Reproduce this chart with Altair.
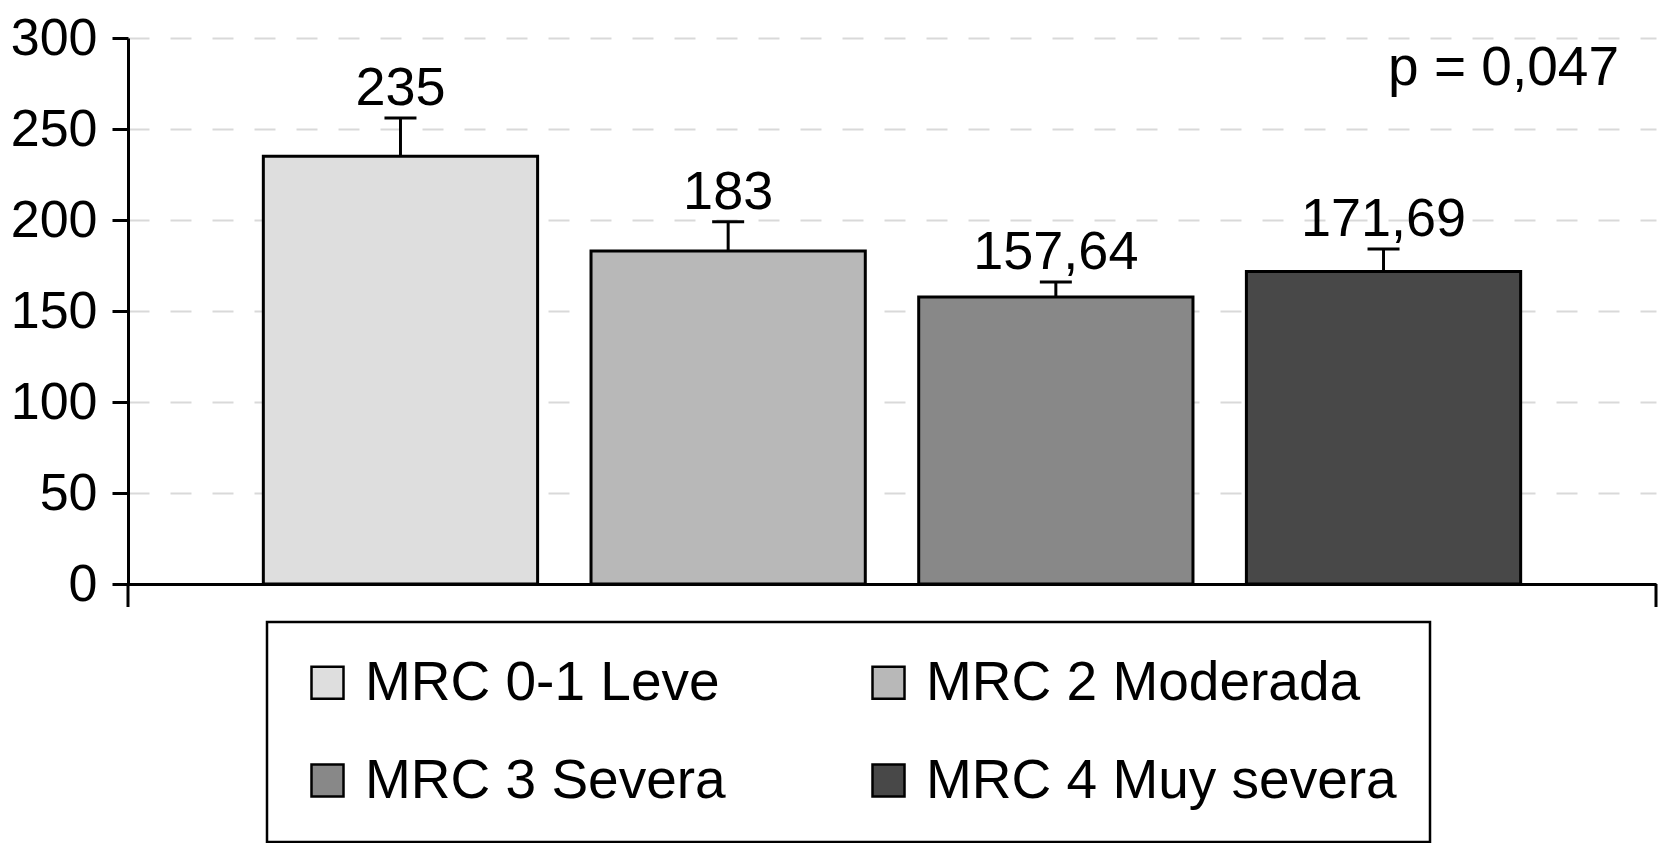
import altair as alt
import pandas as pd

categories = ["MRC 0-1 Leve", "MRC 2 Moderada", "MRC 3 Severa", "MRC 4 Muy severa"]
values = [235, 183, 157.64, 171.69]
err_top = [256, 199, 166, 184]
labels = ["235", "183", "157,64", "171,69"]
colors = ["#dedede", "#b8b8b8", "#888888", "#484848"]
y_ticks = [0, 50, 100, 150, 200, 250, 300]
p_text = "p = 0,047"

W = 1528
H = 546
TOP = 30
FONT = "Liberation Sans"

df = pd.DataFrame({"cat": categories, "value": values, "err": err_top, "label": labels})

x_enc = alt.X(
    "cat:N",
    sort=categories,
    scale=alt.Scale(paddingInner=0.163, paddingOuter=0.413),
    axis=alt.Axis(labels=False, ticks=False, title=None, domainColor="black",
                  domainWidth=3, grid=False),
)
y_scale = alt.Scale(domain=[0, 300], nice=False, zero=True)
y_axis = alt.Axis(values=y_ticks, title=None, labelFontSize=52, labelFont=FONT,
                  labelColor="black", labelPadding=15, tickSize=16, tickWidth=3,
                  tickColor="black", domainColor="black", domainWidth=3,
                  grid=True, gridColor="#d9d9d9", gridWidth=2, gridDash=[21, 21])

base = alt.Chart(df)

bars = base.mark_bar(stroke="black", strokeWidth=3).encode(
    x=x_enc,
    y=alt.Y("value:Q", scale=y_scale, axis=y_axis),
    fill=alt.Fill(
        "cat:N",
        sort=categories,
        scale=alt.Scale(domain=categories, range=colors),
        legend=alt.Legend(title=None, orient="none", legendX=139, legendY=H + 38,
                          columns=2, direction="horizontal", symbolType="square",
                          symbolSize=1024,
                          symbolStrokeColor="black", symbolStrokeWidth=2.5,
                          labelFontSize=55, labelFont=FONT, labelColor="black",
                          labelOffset=10, columnPadding=135, rowPadding=42,
                          padding=33, labelLimit=0),
    ),
)

err_rule = base.mark_rule(color="black", strokeWidth=3).encode(
    x=alt.X("cat:N", sort=categories),
    y=alt.Y("value:Q"),
    y2=alt.Y2("err:Q"),
)

err_cap = base.mark_tick(color="black", size=32, thickness=3, opacity=1).encode(
    x=alt.X("cat:N", sort=categories),
    y=alt.Y("err:Q"),
)

text = base.mark_text(fontSize=54, font=FONT, color="black", baseline="alphabetic",
                      dy=-13).encode(
    x=alt.X("cat:N", sort=categories),
    y=alt.Y("err:Q"),
    text="label:N",
)

ann_df = pd.DataFrame({"t": [p_text]})
p_ann = alt.Chart(ann_df).mark_text(fontSize=55, font=FONT, color="black",
                                    align="right", baseline="alphabetic").encode(
    x=alt.value(W - 37), y=alt.value(47), text="t:N")

end_df = pd.DataFrame({"e": [0]})
end_left = alt.Chart(end_df).mark_rule(color="black", strokeWidth=3).encode(
    x=alt.value(0), y=alt.value(H), y2=alt.value(H + 23))
end_right = alt.Chart(end_df).mark_rule(color="black", strokeWidth=3).encode(
    x=alt.value(W), y=alt.value(H), y2=alt.value(H + 23))

chart = alt.layer(bars, err_rule, err_cap, text, p_ann, end_left, end_right).properties(
    width=W, height=H,
    autosize=alt.AutoSizeParams(type="none"),
    padding={"left": 120, "top": TOP, "right": 3, "bottom": 835 - TOP - H},
    background="white",
).configure_view(stroke=None).configure_legend(
    strokeColor="black", strokeWidth=2.5
)

chart.save("out.html", embed_options={"renderer": "svg", "actions": False})
